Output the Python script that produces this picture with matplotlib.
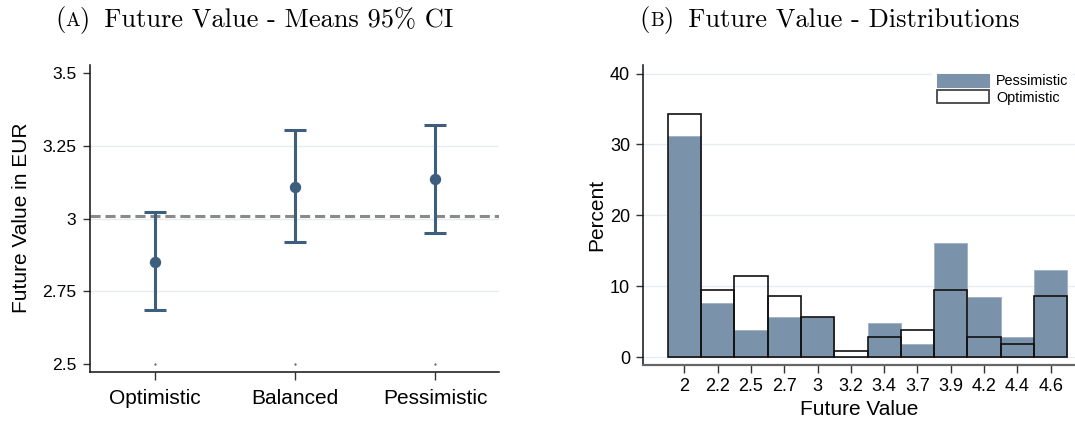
import matplotlib
matplotlib.use("Agg")
import matplotlib.pyplot as plt
from matplotlib.patches import Patch
import numpy as np

# ---- data ----
groups = ["Optimistic", "Balanced", "Pessimistic"]
means = [2.852, 3.110, 3.135]
ci_low = [2.685, 2.919, 2.951]
ci_high = [3.023, 3.304, 3.322]
overall_mean = 3.009

bin_labels = ["2", "2.2", "2.5", "2.7", "3", "3.2", "3.4", "3.7", "3.9", "4.2", "4.4", "4.6"]
pct_pessimistic = [31.2, 7.6, 3.8, 5.7, 5.7, 0.0, 4.8, 1.9, 16.1, 8.5, 2.85, 12.3]
pct_optimistic = [34.3, 9.5, 11.4, 8.6, 5.7, 0.95, 2.86, 3.8, 9.5, 2.86, 1.9, 8.6]

# ---- style ----
plt.rcParams["font.family"] = ["Liberation Sans", "DejaVu Sans"]
BAR_BLUE = "#7b93aa"
CI_BLUE = "#3d5f7d"
GRID = "#e4eef0"

W, H = 1075, 421
fig = plt.figure(figsize=(W / 100, H / 100), dpi=100)

# ---------------- panel A ----------------
axA = fig.add_axes([90.3 / W, 1 - 372 / H, 408.7 / W, 307 / H])
x = np.arange(len(groups))
for yg in [2.75, 3.0, 3.25]:
    axA.axhline(yg, color=GRID, lw=1.0, zorder=0)
axA.axhline(overall_mean, color="#8a8a8a", lw=2.2, dashes=(3.3, 1.6), zorder=1)
yerr = np.array([np.array(means) - np.array(ci_low), np.array(ci_high) - np.array(means)])
axA.errorbar(x, means, yerr=yerr, fmt="o", color=CI_BLUE, ms=7.2, lw=2.2,
             capsize=7.6, capthick=2.2, zorder=3)
axA.plot(x, [2.5] * len(x), ".", ms=1.2, color="#555555", zorder=2)
axA.set_xlim(-0.46, 2.457)
axA.set_ylim(2.473, 3.528)
axA.set_yticks([2.5, 2.75, 3.0, 3.25, 3.5])
axA.set_yticklabels(["2.5", "2.75", "3", "3.25", "3.5"])
axA.set_xticks(x)
axA.set_xticklabels(groups, fontsize=15)
axA.tick_params(axis="y", labelsize=12.6, length=5, width=1, pad=5, color="#333333")
axA.tick_params(axis="x", length=6, width=1, pad=6, color="#333333")
axA.spines["top"].set_visible(False)
axA.spines["right"].set_visible(False)
for s in ["left", "bottom"]:
    axA.spines[s].set_linewidth(1.1)
    axA.spines[s].set_color("#111111")
axA.set_ylabel("Future Value in EUR", fontsize=15)
axA.yaxis.set_label_coords(-0.145, 0.503)

# ---------------- panel B ----------------
axB = fig.add_axes([642.7 / W, 1 - 365.3 / H, (W - 642.7) / W, 300.3 / H])
pos = np.arange(len(bin_labels))
for yg in [0, 10, 20, 30, 40]:
    axB.axhline(yg, color=GRID, lw=1.0, zorder=0)
axB.bar(pos, pct_pessimistic, width=1.0, color=BAR_BLUE, edgecolor="#9fb0c2",
        linewidth=0.6, zorder=2)
axB.bar(pos, pct_optimistic, width=1.0, facecolor="none", edgecolor="#111111",
        linewidth=1.2, zorder=3)
axB.set_xlim(-1.25, 11.73)
axB.set_ylim(-1.13, 41.2)
axB.set_xticks(pos)
axB.set_xticklabels(bin_labels)
axB.set_yticks([0, 10, 20, 30, 40])
axB.tick_params(axis="both", labelsize=13, color="#333333")
axB.tick_params(axis="x", length=6, width=1, pad=3)
axB.tick_params(axis="y", length=5, width=1, pad=4)
axB.spines["top"].set_visible(False)
axB.spines["right"].set_visible(False)
axB.spines["left"].set_linewidth(1.1)
axB.spines["left"].set_color("#111111")
axB.spines["bottom"].set_linewidth(1.6)
axB.spines["bottom"].set_color("#666666")
axB.set_ylabel("Percent", fontsize=15)
axB.yaxis.set_label_coords(-0.085, 0.5)
axB.set_xlabel("Future Value", fontsize=15)
axB.xaxis.set_label_coords(0.5, -0.114)

handles = [Patch(facecolor=BAR_BLUE, edgecolor=BAR_BLUE, lw=0.8, label="Pessimistic"),
           Patch(facecolor="white", edgecolor="#444444", lw=1.3, label="Optimistic")]
leg = axB.legend(handles=handles, loc="upper left", bbox_to_anchor=(0.67, 0.985),
                 fontsize=10.4, frameon=True, handlelength=3.6, handleheight=1.0,
                 labelspacing=0.15, handletextpad=0.5, borderpad=0.3,
                 borderaxespad=0.0, fancybox=False)
leg.get_frame().set_facecolor("white")
leg.get_frame().set_edgecolor("none")
leg.get_frame().set_alpha(1.0)


# ---------------- panel captions (small-caps letter) ----------------
def caption(xc_px, base_px, letter, rest, size=19.0):
    fam = ["cmr10", "DejaVu Serif"]
    parts = [("(", size), (letter, size * 0.74), (")\u2009" + rest, size)]
    r = fig.canvas.get_renderer()
    objs, widths = [], []
    for s, fs in parts:
        t = fig.text(0, 1 - base_px / H, s, fontsize=fs, family=fam, va="baseline", ha="left")
        widths.append(t.get_window_extent(r).width)
        objs.append(t)
    x0 = xc_px - sum(widths) / 2
    for t, w in zip(objs, widths):
        t.set_x(x0 / W)
        x0 += w


caption(254, 26, "A", " Future Value - Means 95% CI")
caption(829.5, 26, "B", " Future Value - Distributions")

fig.savefig("out.png", dpi=100)
